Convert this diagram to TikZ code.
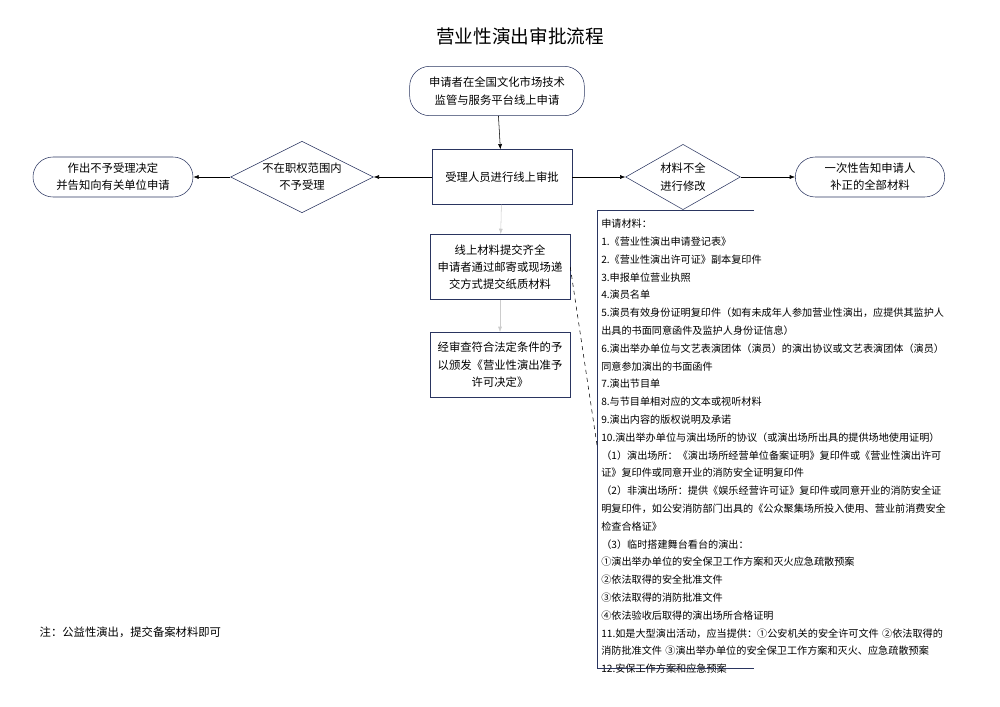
\documentclass[tikz,border=0pt]{standalone}
\usepackage{fontspec}
\setmainfont{Noto Sans CJK SC}
\usetikzlibrary{shapes.geometric,arrows.meta}
\definecolor{navy}{HTML}{2A3560}

\tikzset{
    proc/.style={draw=navy, thin, minimum width=105pt, minimum height=41pt, align=center, font=\fontsize{8.5}{13}\selectfont},
    term/.style={draw=navy, thin, rounded corners=15pt, minimum height=30pt, align=center, font=\fontsize{8.5}{13}\selectfont},
    decide/.style={draw=navy, thin, diamond, aspect=2, inner sep=1pt, align=center, font=\fontsize{8.5}{13}\selectfont},
    flow/.style={-{Latex[length=4pt,width=3pt]}, thin}
}

\begin{document}
\begin{tikzpicture}[x=0.75pt,y=-0.75pt]

    \useasboundingbox (0,0) rectangle (1000,707);

    \node (title) at (520,36) {\fontsize{14}{16}\selectfont 营业性演出审批流程};

    \node[term, minimum width=131pt, minimum height=37pt] (apply) at (497,91) {申请者在全国文化市场技术\\监管与服务平台线上申请};
    \node[proc] (review) at (502,177) {受理人员进行线上审批};
    \node[decide, minimum width=105pt, minimum height=52pt] (reject) at (302,177) {不在职权范围内\\不予受理};
    \node[term, minimum width=120pt] (notify) at (113,177) {作出不予受理决定\\并告知向有关单位申请};
    \node[decide, minimum width=86pt, minimum height=49pt] (fix) at (683,177) {材料不全\\进行修改};
    \node[term, minimum width=112pt] (inform) at (870,177) {一次性告知申请人\\补正的全部材料};
    \node[proc, minimum height=49pt] (paper) at (500,267) {线上材料提交齐全\\申请者通过邮寄或现场递\\交方式提交纸质材料};
    \node[proc, minimum height=49pt] (grant) at (500,365) {经审查符合法定条件的予\\以颁发《营业性演出准予\\许可决定》};

    \draw[flow] (apply) -- (review);
    \draw[flow] (review) -- (reject);
    \draw[flow] (reject) -- (notify);
    \draw[flow] (review) -- (fix);
    \draw[flow] (fix) -- (inform);
    \draw[flow, black!20] (review) -- (paper);
    \draw[flow, black!20] (paper) -- (grant);

    % materials list
    \node[anchor=north west, inner sep=0pt, align=left, text width=300pt,
          font=\fontsize{7.6}{13.35}\selectfont] (list) at (601,219) {%
申请材料：\\
1.《营业性演出申请登记表》\\
2.《营业性演出许可证》副本复印件\\
3.申报单位营业执照\\
4.演员名单\\
5.演员有效身份证明复印件（如有未成年人参加营业性演出，应提供其监护人\\
出具的书面同意函件及监护人身份证信息）\\
6.演出举办单位与文艺表演团体（演员）的演出协议或文艺表演团体（演员）\\
同意参加演出的书面函件\\
7.演出节目单\\
8.与节目单相对应的文本或视听材料\\
9.演出内容的版权说明及承诺\\
10.演出举办单位与演出场所的协议（或演出场所出具的提供场地使用证明）\\
（1）演出场所：《演出场所经营单位备案证明》复印件或《营业性演出许可\\
证》复印件或同意开业的消防安全证明复印件\\
（2）非演出场所：提供《娱乐经营许可证》复印件或同意开业的消防安全证\\
明复印件，如公安消防部门出具的《公众聚集场所投入使用、营业前消费安全\\
检查合格证》\\
（3）临时搭建舞台看台的演出：\\
①演出举办单位的安全保卫工作方案和灭火应急疏散预案\\
②依法取得的安全批准文件\\
③依法取得的消防批准文件\\
④依法验收后取得的演出场所合格证明\\
11.如是大型演出活动，应当提供：①公安机关的安全许可文件 ②依法取得的\\
消防批准文件 ③演出举办单位的安全保卫工作方案和灭火、应急疏散预案\\
12.安保工作方案和应急预案};

    \coordinate (brtop) at (597,210);
    \coordinate (brbot) at (597,668);
    \draw[navy] (754,210) -- (brtop) -- (brbot) -- (754,668);
    \draw[dashed, thin] (paper.east) -- (597,445);

    \node[anchor=west, font=\fontsize{8.5}{10}\selectfont] (note) at (35,632) {注：公益性演出，提交备案材料即可};

\end{tikzpicture}
\end{document}
